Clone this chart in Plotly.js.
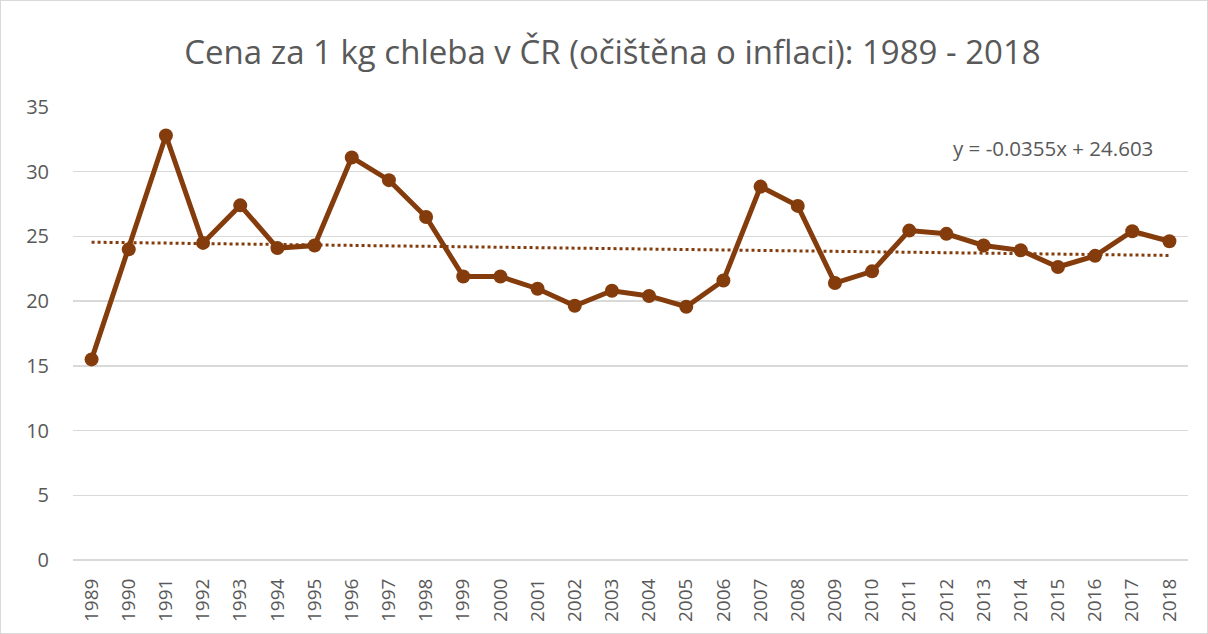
<!DOCTYPE html>
<html>
<head>
<meta charset="utf-8">
<script src="https://cdn.plot.ly/plotly-3.0.1.min.js"></script>
<style>
html,body{margin:0;padding:0;background:#fff;}
#wrap{width:1208px;height:634px;box-sizing:border-box;border:1px solid #d9d9d9;overflow:hidden;}
#chart{width:1206px;height:632px;}
</style>
</head>
<body>
<div id="wrap"><div id="chart"></div></div>
<script>
const years = ["1989","1990","1991","1992","1993","1994","1995","1996","1997","1998","1999","2000","2001","2002","2003","2004","2005","2006","2007","2008","2009","2010","2011","2012","2013","2014","2015","2016","2017","2018"];
const prices = [15.5,24.0,32.8,24.5,27.4,24.1,24.3,31.1,29.35,26.5,21.9,21.9,20.96,19.64,20.8,20.4,19.57,21.6,28.85,27.36,21.4,22.3,25.45,25.2,24.3,23.93,22.64,23.5,25.4,24.63];
const trendLabel = "y = -0.0355x + 24.603";
const titleText = "Cena za 1 kg chleba v ČR (očištěna o inflaci): 1989 - 2018";

// least-squares linear trend (as Excel's trendline), x = 1..n
const n = prices.length;
const xs = prices.map((_, i) => i + 1);
const mx = xs.reduce((a, b) => a + b, 0) / n;
const my = prices.reduce((a, b) => a + b, 0) / n;
let sxy = 0, sxx = 0;
for (let i = 0; i < n; i++) { sxy += (xs[i] - mx) * (prices[i] - my); sxx += (xs[i] - mx) ** 2; }
const slope = sxy / sxx, intercept = my - slope * mx;
const trend = xs.map(x => intercept + slope * x);

const col = "#843c0c";
const txt = "#595959";
const fam = "'Open Sans', 'Noto Sans', sans-serif";

const data = [
  {x: years, y: trend, type: "scatter", mode: "lines",
   line: {color: col, width: 3, dash: "dot"}, hoverinfo: "skip", showlegend: false},
  {x: years, y: prices, type: "scatter", mode: "lines+markers",
   line: {color: col, width: 5}, marker: {color: col, size: 14}, showlegend: false}
];

const layout = {
  width: 1206, height: 632,
  margin: {l: 72, r: 19, t: 106, b: 73},
  paper_bgcolor: "#fff", plot_bgcolor: "#fff",
  font: {family: fam, color: txt},
  title: {text: titleText, x: 0.507, xanchor: "center", y: 0.918, yanchor: "middle",
          font: {size: 33, color: txt, family: fam}},
  xaxis: {type: "category", range: [-0.5, 29.5], tickangle: -90,
          tickfont: {size: 19, color: txt, family: fam},
          showgrid: false, zeroline: false, showline: false, ticks: "outside", ticklen: 10, tickcolor: "rgba(0,0,0,0)"},
  yaxis: {range: [0, 35], dtick: 5, tick0: 0,
          tickfont: {size: 20, color: txt, family: fam},
          gridcolor: "#d9d9d9", gridwidth: 1.5, zeroline: true, zerolinecolor: "#d9d9d9", zerolinewidth: 1.5,
          showline: false, ticks: "outside", ticklen: 19, tickcolor: "rgba(0,0,0,0)"},
  annotations: [{
    text: trendLabel, xref: "paper", yref: "y", x: 0.879, y: 31.85, xanchor: "center", yanchor: "middle",
    showarrow: false, font: {size: 20.5, color: txt, family: fam}
  }]
};

Plotly.newPlot("chart", data, layout, {displayModeBar: false, staticPlot: true});
</script>
</body>
</html>
